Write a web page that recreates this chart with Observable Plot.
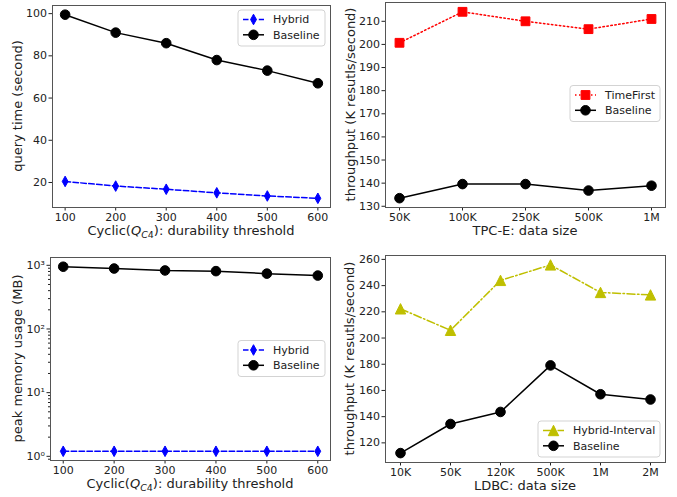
<!DOCTYPE html>
<html><head><meta charset="utf-8">
<script src="https://cdn.jsdelivr.net/npm/d3@7"></script>
<script src="https://cdn.jsdelivr.net/npm/@observablehq/plot@0.6"></script>
<style>
body{margin:0;background:#fff;}
#root{position:relative;width:677px;height:497px;font-family:"DejaVu Sans",sans-serif;overflow:hidden;}
#root svg{position:absolute;overflow:visible;}
</style></head><body><div id="root"></div>
<script>
// ---- data ----
const thresholds = [100, 200, 300, 400, 500, 600];
const hybridTime = [20.5, 18.3, 16.8, 15.1, 13.6, 12.5];
const baselineTime = [99.5, 91, 86, 78, 73, 67];

const tpcSizes = ["50K", "100K", "250K", "500K", "1M"];
const timeFirstTput = [200.7, 214.1, 210.0, 206.6, 211.0];
const baselineTpcTput = [133.5, 139.6, 139.6, 136.8, 138.9];

const hybridMem = [1.2, 1.2, 1.2, 1.2, 1.2, 1.2];
const baselineMem = [950, 890, 830, 810, 740, 690];

const ldbcSizes = ["10K", "50K", "120K", "500K", "1M", "2M"];
const hybridIntervalTput = [222.3, 205.9, 244.0, 255.8, 234.8, 232.9];
const baselineLdbcTput = [112.2, 134.4, 143.6, 179.1, 157.1, 153.1];

const thresholdTicks = [100, 200, 300, 400, 500, 600];
const timeTicks = [20, 40, 60, 80, 100];
const tpcTicks = [130, 140, 150, 160, 170, 180, 190, 200, 210];
const memTicks = [1, 10, 100, 1000];
const memTickLabels = ["10⁰", "10¹", "10²", "10³"];
const ldbcTicks = [120, 140, 160, 180, 200, 220, 240, 260];

// ---- helpers ----
const FONT = '"DejaVu Sans", sans-serif';
const root = d3.select("#root");
const rows = (xs, ys) => xs.map((x, i) => ({x, y: ys[i]}));
function pad(vals, log) {
  const t = log ? vals.map(Math.log10) : vals;
  const [a, b] = d3.extent(t); const m = (b - a) * 0.05;
  return log ? [10 ** (a - m), 10 ** (b + m)] : [a - m, b + m];
}
const diamond = {draw(c, s){const r=Math.sqrt(s/Math.PI); c.moveTo(0,-r); c.lineTo(0.55*r,0); c.lineTo(0,r); c.lineTo(-0.55*r,0); c.closePath();}};
const square = {draw(c, s){const r=Math.sqrt(s/Math.PI); c.rect(-r,-r,2*r,2*r);}};
const triangle = {draw(c, s){const r=Math.sqrt(s/Math.PI); c.moveTo(0,-r); c.lineTo(r,r); c.lineTo(-r,r); c.closePath();}};

const S = {
  hybrid: {label:"Hybrid", color:"#0000ff", dash:"5.5,2.4", symbol: diamond, r: 5.3},
  base: {label:"Baseline", color:"#000000", dash:null, symbol: "circle", r: 4.8},
  tf: {label:"TimeFirst", color:"#ff0000", dash:"1.5,2.5", symbol: square, r: 4.4},
  hi: {label:"Hybrid-Interval", color:"#bfbf00", dash:"8,2.5,1.5,2.5", symbol: triangle, r: 5.2}
};

function series(data, s) {
  return [
    Plot.line(data, {x:"x", y:"y", stroke:s.color, strokeWidth:1.5, strokeDasharray:s.dash || undefined}),
    Plot.dot(data, {x:"x", y:"y", symbol:s.symbol, r:s.r, fill:s.color, stroke:s.color, strokeWidth:1})
  ];
}

function panel(o) {
  const svg = Plot.plot({
    width: o.w, height: o.h,
    marginLeft: o.m[0], marginRight: o.m[1], marginTop: o.m[2], marginBottom: o.m[3],
    x: o.x, y: o.y,
    style: {fontFamily: FONT, fontSize: "11px", color: "#222", background: "transparent", overflow: "visible"},
    marks: [
      ...o.marks,
      Plot.axisX({ticks: o.xticks, tickSize: 3.5, tickPadding: 2, fontSize: 11, label: null}),
      Plot.axisY({ticks: o.yticks, tickSize: 3.5, tickPadding: 2, fontSize: 11, label: null, tickFormat: o.yfmt}),
      ...(o.extra || []),
      Plot.frame({stroke: "#555", strokeWidth: 1})
    ]
  });
  svg.style.left = o.left + "px"; svg.style.top = o.top + "px";
  root.node().appendChild(svg);
  const g = d3.select(svg);
  const fx = o.m[0] + (o.w - o.m[0] - o.m[1]) / 2;
  const fy = o.m[2] + (o.h - o.m[2] - o.m[3]) / 2;
  const xt = g.append("text").attr("x", fx).attr("y", o.h - o.m[3] + 28)
    .attr("text-anchor", "middle").attr("font-size", 13).attr("fill", "#222").attr("font-family", FONT);
  o.xlabel(xt);
  g.append("text").attr("transform", `translate(${o.ylx},${fy}) rotate(-90)`).attr("dy", "0.35em")
    .attr("text-anchor", "middle").attr("font-size", 13).attr("fill", "#222").attr("font-family", FONT)
    .text(o.ylabel);
  // legend
  const L = o.legend;
  const lg = g.append("g").attr("transform", `translate(${L.x},${L.y})`);
  lg.append("rect").attr("width", L.w).attr("height", 36).attr("rx", 3)
    .attr("fill", "rgba(255,255,255,0.8)").attr("stroke", "#d3d3d3").attr("stroke-width", 1);
  L.items.forEach((s, i) => {
    const cy = 9.5 + i * 15.3;
    lg.append("line").attr("x1", 5).attr("x2", 26).attr("y1", cy).attr("y2", cy)
      .attr("stroke", s.color).attr("stroke-width", 1.5).attr("stroke-dasharray", s.dash);
    const sym = s.symbol === "circle" ? d3.symbolCircle : s.symbol;
    lg.append("path").attr("d", d3.symbol(sym, s.r * s.r * Math.PI)()).attr("transform", `translate(15.5,${cy})`)
      .attr("fill", s.color).attr("stroke", s.color).attr("stroke-width", 1);
    lg.append("text").attr("x", 35).attr("y", cy).attr("dy", "0.35em").attr("font-size", 11)
      .attr("text-anchor", "start")
      .attr("fill", "#222").attr("font-family", FONT).text(s.label);
  });
}

function cyclicLabel(t) {
  t.append("tspan").text("Cyclic(");
  t.append("tspan").attr("font-style", "italic").text("Q");
  t.append("tspan").attr("font-style", "italic").attr("font-size", 9.5).attr("dy", 2.5).text("C");
  t.append("tspan").attr("font-size", 9.5).text("4");
  t.append("tspan").attr("dy", -2.5).text("): durability threshold");
}

const minorMem = [];
for (const k of [0.1, 1, 10, 100]) for (let j = 2; j <= 9; j++) minorMem.push(j * k);

// Panel 1
panel({
  left: 0, top: 0, w: 340, h: 248, m: [52, 10, 5, 41],
  x: {domain: [75, 625]}, y: {domain: pad([...hybridTime, ...baselineTime])},
  xticks: thresholdTicks, yticks: timeTicks,
  marks: [...series(rows(thresholds, hybridTime), S.hybrid), ...series(rows(thresholds, baselineTime), S.base)],
  xlabel: cyclicLabel, ylabel: "query time (second)", ylx: 17.5,
  legend: {x: 238, y: 10, w: 87, items: [S.hybrid, S.base]}
});

// Panel 2
panel({
  left: 340, top: 0, w: 337, h: 248, m: [45, 12, 2, 41],
  x: {type: "point", domain: tpcSizes, padding: 0.2}, y: {domain: pad([...timeFirstTput, ...baselineTpcTput])},
  xticks: tpcSizes, yticks: tpcTicks,
  marks: [...series(rows(tpcSizes, timeFirstTput), S.tf), ...series(rows(tpcSizes, baselineTpcTput), S.base)],
  xlabel: t => t.text("TPC-E: data size"), ylabel: "throughput (K resutls/second)", ylx: 10,
  legend: {x: 230, y: 85.5, w: 90, items: [S.tf, S.base]}
});

// Panel 3
const memDomain = pad([...hybridMem, ...baselineMem], true);
panel({
  left: 0, top: 250, w: 340, h: 247, m: [50, 10, 7, 37],
  x: {domain: [75, 625]}, y: {type: "log", domain: memDomain},
  xticks: thresholdTicks, yticks: memTicks, yfmt: d => memTickLabels[memTicks.indexOf(d)],
  extra: [Plot.axisY({ticks: minorMem.filter(v => v >= memDomain[0] && v <= memDomain[1]), tickSize: 2, tickFormat: () => "", label: null})],
  marks: [...series(rows(thresholds, hybridMem), S.hybrid), ...series(rows(thresholds, baselineMem), S.base)],
  xlabel: cyclicLabel, ylabel: "peak memory usage (MB)", ylx: 17.5,
  legend: {x: 238, y: 90.5, w: 87, items: [S.hybrid, S.base]}
});

// Panel 4
panel({
  left: 340, top: 250, w: 337, h: 247, m: [45, 12, 5, 35],
  x: {type: "point", domain: ldbcSizes, padding: 0.25}, y: {domain: pad([...hybridIntervalTput, ...baselineLdbcTput])},
  xticks: ldbcSizes, yticks: ldbcTicks,
  marks: [...series(rows(ldbcSizes, hybridIntervalTput), S.hi), ...series(rows(ldbcSizes, baselineLdbcTput), S.base)],
  xlabel: t => t.text("LDBC: data size"), ylabel: "throughput (K resutls/second)", ylx: 9.5,
  legend: {x: 198, y: 171, w: 122, items: [S.hi, S.base]}
});
</script></body></html>
